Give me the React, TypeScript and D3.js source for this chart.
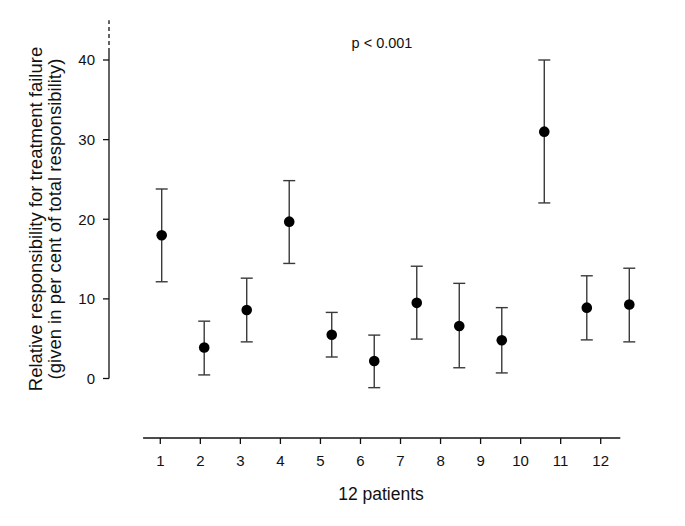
import React from "react";
import * as d3 from "d3";

const patients = [1, 2, 3, 4, 5, 6, 7, 8, 9, 10, 11, 12];
const means = [18.0, 3.9, 8.6, 19.7, 5.5, 2.2, 9.5, 6.6, 4.8, 31.0, 8.9, 9.3];
const upper = [23.8, 7.2, 12.6, 24.85, 8.3, 5.45, 14.1, 11.95, 8.9, 40.0, 12.9, 13.85];
const lower = [12.15, 0.45, 4.6, 14.45, 2.7, -1.15, 4.95, 1.35, 0.7, 22.05, 4.85, 4.6];
const yTicks = [0, 10, 20, 30, 40];
const xTickLabels = ["1", "2", "3", "4", "5", "6", "7", "8", "9", "10", "11", "12"];

const W = 685;
const H = 526;
const font = "Liberation Sans, Arial, sans-serif";

export default function App() {
  const y = d3.scaleLinear().domain([0, 40]).range([378.5, 60]);
  const xAxis = d3.scaleLinear().domain([1, 12]).range([160.3, 600.7]);
  const xPts = d3.scaleLinear().domain([1, 12]).range([161.7, 629.3]);
  const axisX = 109;
  const axisY = 438;
  const errColor = "#3a3a3a";

  return (
    <svg
      width={W}
      height={H}
      style={{ position: "absolute", left: 0, top: 0, background: "#fff" }}
      fontFamily={font}
    >
      <rect x={0} y={0} width={W} height={H} fill="#fff" />
      {/* Y axis */}
      <line x1={axisX} x2={axisX} y1={y(0)} y2={y(41)} stroke="#111" strokeWidth={1.3} />
      <line
        x1={axisX}
        x2={axisX}
        y1={y(41)}
        y2={y(45)}
        stroke="#111"
        strokeWidth={1.3}
        strokeDasharray="4,3"
      />
      {yTicks.map((t) => (
        <g key={t}>
          <line x1={axisX - 6} x2={axisX} y1={y(t)} y2={y(t)} stroke="#111" strokeWidth={1.3} />
          <text
            x={axisX - 14}
            y={y(t)}
            dy="0.36em"
            textAnchor="end"
            fontSize={15}
            fill="#111"
          >
            {t}
          </text>
        </g>
      ))}
      {/* X axis */}
      <line
        x1={xAxis(0.57)}
        x2={xAxis(12.49)}
        y1={axisY}
        y2={axisY}
        stroke="#111"
        strokeWidth={1.3}
      />
      {patients.map((p, i) => (
        <g key={p}>
          <line x1={xAxis(p)} x2={xAxis(p)} y1={axisY} y2={axisY + 6} stroke="#111" strokeWidth={1.3} />
          <text x={xAxis(p)} y={466} textAnchor="middle" fontSize={15} fill="#111">
            {xTickLabels[i]}
          </text>
        </g>
      ))}
      <text x={381} y={500} textAnchor="middle" fontSize={17.5} fill="#111">
        12 patients
      </text>
      {/* Y label */}
      <g transform="translate(42,219) rotate(-90)">
        <text x={0} y={0} textAnchor="middle" fontSize={18.5} fill="#111">
          Relative responsibility for treatment failure
        </text>
        <text x={0} y={19} textAnchor="middle" fontSize={18.5} fill="#111">
          (given in per cent of total responsibility)
        </text>
      </g>
      <text x={382} y={48.3} textAnchor="middle" fontSize={14.5} fill="#111">
        p &lt; 0.001
      </text>
      {/* Error bars and points */}
      {patients.map((p, i) => {
        const cx = xPts(p);
        return (
          <g key={"pt" + p}>
            <line x1={cx} x2={cx} y1={y(upper[i])} y2={y(lower[i])} stroke={errColor} strokeWidth={1.4} />
            <line x1={cx - 6} x2={cx + 6} y1={y(upper[i])} y2={y(upper[i])} stroke={errColor} strokeWidth={1.4} />
            <line x1={cx - 6} x2={cx + 6} y1={y(lower[i])} y2={y(lower[i])} stroke={errColor} strokeWidth={1.4} />
            <circle cx={cx} cy={y(means[i])} r={5.3} fill="#000" />
          </g>
        );
      })}
    </svg>
  );
}
